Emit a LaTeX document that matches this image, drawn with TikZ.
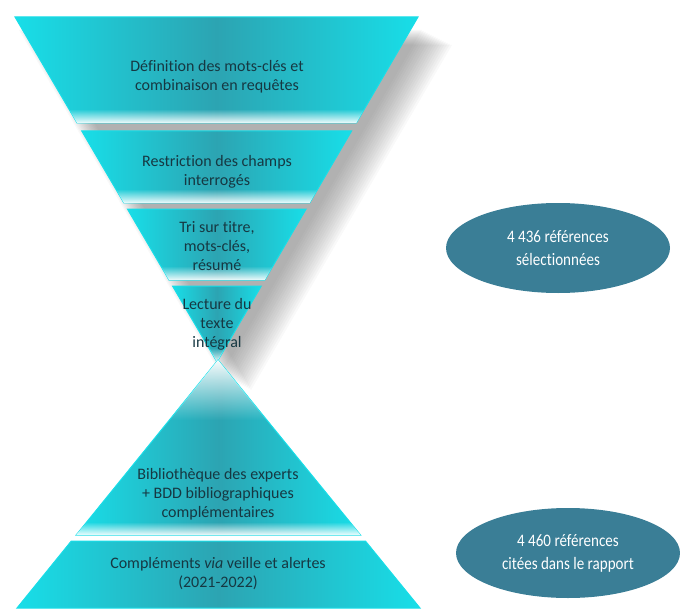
\documentclass[tikz,border=0pt]{standalone}
\usepackage{fontspec}
\setmainfont[Ligatures=NoCommon]{Carlito}
\newfontfamily\ovalfont[FakeStretch=0.86, Ligatures=NoCommon]{Carlito}
\usetikzlibrary{calc,fadings,shapes.geometric}
\definecolor{fEdge}{RGB}{24,222,232}
\definecolor{fMid}{RGB}{44,164,178}
\definecolor{fText}{RGB}{22,56,66}
\definecolor{ovalblue}{RGB}{58,126,150}
\definecolor{shadowgray}{RGB}{90,90,90}

\begin{document}
\begin{tikzpicture}[x=1pt, y=-1pt,
	band/.style={
		left color=fEdge,
		right color=fEdge,
		middle color=fMid,
		draw=fEdge,
		line width=1pt
	},
	bandtext/.style={
		align=center,
		text=fText,
		font=\fontsize{16}{19}\selectfont
	},
	refoval/.style={
		ellipse,
		fill=ovalblue,
		text=white,
		align=center,
		minimum width=224pt,
		minimum height=90pt,
		inner sep=0pt,
		font=\ovalfont\fontsize{17.5}{23}\selectfont
	}
]
\useasboundingbox (0,0) rectangle (680,610);

% corners of the two triangles
\coordinate (tl) at (15,17);
\coordinate (tr) at (418,17);
\coordinate (ta) at (217,362);
\coordinate (bl) at (17,608);
\coordinate (br) at (420,608);
\coordinate (ba) at (218,360);

% shadow of the upper triangle
\foreach \d in {2,4,...,32}
	\fill[shadowgray, opacity=0.038] ($(tl)+(\d+2,\d*0.5+12)$) -- ($(tr)+(\d+2,\d*0.5+12)$) -- ($(ta)+(\d+2,\d*0.5+12)$) -- cycle;

% upper bands
\foreach \ya/\yb in {17/123, 131/203, 209/280, 286/362}{
	\path[band] ($(tl)!{(\ya-17)/345}!(ta)$) -- ($(tr)!{(\ya-17)/345}!(ta)$)
		-- ($(tr)!{(\yb-17)/345}!(ta)$) -- ($(tl)!{(\yb-17)/345}!(ta)$) -- cycle;
	\begin{scope}
		\clip ($(tl)!{(\ya-17)/345}!(ta)$) -- ($(tr)!{(\ya-17)/345}!(ta)$)
			-- ($(tr)!{(\yb-17)/345}!(ta)$) -- ($(tl)!{(\yb-17)/345}!(ta)$) -- cycle;
		\fill[white, path fading=north] (0,\yb-14) rectangle (680,\yb+1);
	\end{scope}
}

% lower bands
\foreach \ya/\yb in {360/535, 541/608}{
	\path[band] ($(ba)!{(\ya-360)/248}!(bl)$) -- ($(ba)!{(\ya-360)/248}!(br)$)
		-- ($(ba)!{(\yb-360)/248}!(br)$) -- ($(ba)!{(\yb-360)/248}!(bl)$) -- cycle;
}
\begin{scope}
	\clip (ba) -- ($(ba)!{175/248}!(br)$) -- ($(ba)!{175/248}!(bl)$) -- cycle;
	\fill[white, path fading=south] (0,358) rectangle (680,420);
	\fill[white, path fading=north] (0,522) rectangle (680,536);
\end{scope}

\node[bandtext] (def) at (217,77) {Définition des mots-clés et\\combinaison en requêtes};
\node[bandtext] (restr) at (217,172) {Restriction des champs\\interrogés};
\node[bandtext] (tri) at (217,246) {Tri sur titre,\\mots-clés,\\résumé};
\node[bandtext] (lect) at (217,324) {Lecture du\\texte\\intégral};
\node[bandtext] (biblio) at (218,494) {Bibliothèque des experts\\+ BDD bibliographiques\\complémentaires};
\node[bandtext] (compl) at (218,574) {Compléments \emph{via} veille et alertes\\(2021-2022)};

\node[refoval] (sel) at (558,248) {4 436 références\\sélectionnées};
\node[refoval] (cit) at (568,553) {4 460 références\\citées dans le rapport};

\end{tikzpicture}
\end{document}
